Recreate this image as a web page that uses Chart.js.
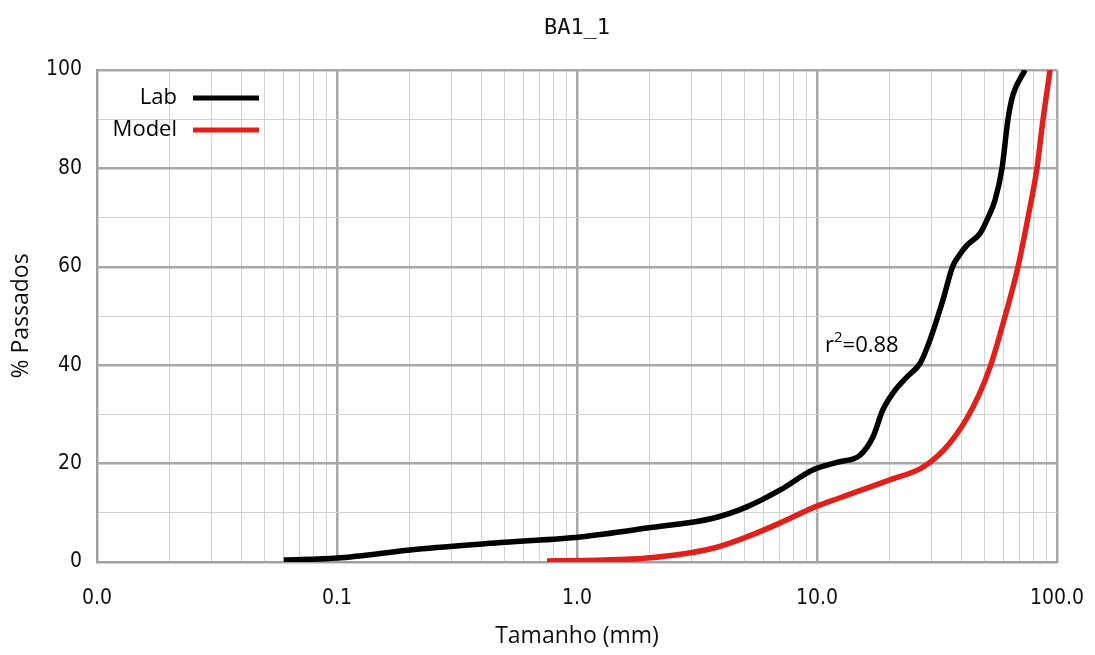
<!DOCTYPE html>
<html>
<head>
<meta charset="utf-8">
<script src="https://cdn.jsdelivr.net/npm/chart.js@4.4.1/dist/chart.umd.min.js"></script>
<style>
    html, body { margin: 0; padding: 0; background: #fff; }
    #wrap { width: 1095px; height: 655px; }
</style>
</head>
<body>
<div id="wrap"><canvas id="gradChart"></canvas></div>
<script>
// values
const labSize = [0.06, 0.1, 0.215, 0.5, 1.03, 1.96, 3.69, 5.1, 7.0, 9.6, 12.2, 15.1, 17.1, 18.8, 20.7, 23.7, 26.9, 29.5, 33.5, 36.7, 38.7, 42.2, 47.8, 51.6, 55.2, 59, 62.5, 65.6, 73.6];
const labPass = [0.4, 0.8, 2.6, 4.0, 5.1, 6.9, 8.9, 11.2, 14.6, 18.7, 20.3, 21.7, 25.4, 30.9, 34.3, 37.6, 40.4, 45, 53.3, 60, 62, 64.4, 66.8, 70, 73.6, 80, 90, 95, 100];
const modelSize = [0.75, 1.0, 1.96, 3.69, 5.1, 7.0, 9.6, 12.4, 20.1, 27.7, 35.8, 44.7, 52.6, 59.6, 68.8, 75.7, 82.5, 87.5, 93.6];
const modelPass = [0.2, 0.3, 0.8, 2.8, 5.1, 7.9, 11, 13, 16.7, 19.3, 24.2, 31.5, 39.6, 48.5, 60, 70, 80, 90, 100];
const xTickValues = [];
[0.01, 0.1, 1, 10].forEach(function (d) {
    for (let m = 1; m < 10; m++) xTickValues.push(+(m * d).toPrecision(3));
});
xTickValues.push(100);
const xTickLabels = ['0.0', '0.1', '1.0', '10.0', '100.0'];
const yTickValues = [0, 10, 20, 30, 40, 50, 60, 70, 80, 90, 100];
const yTickLabels = [0, 20, 40, 60, 80, 100];
const r2Text = '0.88';

const tickFont = '"DejaVu Sans Condensed", "DejaVu Sans", sans-serif';

function isDecade(v) {
    const l = Math.log10(v);
    return Math.abs(l - Math.round(l)) < 1e-9;
}

function pts(xs, ys) {
    return xs.map(function (x, i) { return {x: x, y: ys[i]}; });
}

const extras = {
    id: 'extras',
    afterDraw: function (chart) {
        const ctx = chart.ctx;
        const a = chart.chartArea;
        ctx.save();
        // title
        ctx.fillStyle = '#111';
        ctx.font = '22px "DejaVu Sans Mono"';
        ctx.textAlign = 'center';
        ctx.textBaseline = 'middle';
        ctx.fillText('BA1_1', (a.left + a.right) / 2, 28);
        // legend, text then line
        ctx.font = '22px "Open Sans"';
        ctx.textAlign = 'right';
        chart.data.datasets.forEach(function (ds, i) {
            const y = a.top + 28 + i * 32;
            ctx.fillStyle = '#000';
            ctx.fillText(ds.label, a.left + 80, y);
            ctx.strokeStyle = ds.borderColor;
            ctx.lineWidth = 5;
            ctx.beginPath();
            ctx.moveTo(a.left + 96, y);
            ctx.lineTo(a.left + 162, y);
            ctx.stroke();
        });
        // r2 note
        const xs = chart.scales.x, ys = chart.scales.y;
        const px = xs.getPixelForValue(10.8), py = ys.getPixelForValue(44);
        ctx.textAlign = 'left';
        ctx.fillStyle = '#000';
        ctx.font = '22px "Open Sans"';
        ctx.fillText('r', px, py);
        const w1 = ctx.measureText('r').width;
        ctx.font = '15px "Open Sans"';
        ctx.fillText('2', px + w1, py - 8);
        const w2 = ctx.measureText('2').width;
        ctx.font = '22px "Open Sans"';
        ctx.fillText('=' + r2Text, px + w1 + w2, py);
        ctx.restore();
    }
};

const ctx = document.getElementById('gradChart').getContext('2d');
const myChart = new Chart(ctx, {
    type: 'line',
    data: {
        datasets: [
            {
                label: 'Lab',
                data: pts(labSize, labPass),
                borderColor: '#000000',
                borderWidth: 5.5,
                pointRadius: 0,
                cubicInterpolationMode: 'monotone',
                fill: false
            },
            {
                label: 'Model',
                data: pts(modelSize, modelPass),
                borderColor: '#e0201a',
                borderWidth: 5.5,
                pointRadius: 0,
                cubicInterpolationMode: 'monotone',
                fill: false
            }
        ]
    },
    options: {
        responsive: true,
        maintainAspectRatio: false,
        animation: false,
        layout: { padding: { top: 70, right: 38, left: 0, bottom: 0 } },
        plugins: {
            legend: { display: false },
            tooltip: { enabled: false }
        },
        scales: {
            x: {
                type: 'logarithmic',
                min: 0.01,
                max: 100,
                afterBuildTicks: function (s) {
                    s.ticks = xTickValues.map(function (v) { return {value: v}; });
                },
                afterFit: function (s) {
                    s.height = 93;
                    s.paddingLeft = 0;
                    s.paddingRight = 0;
                },
                ticks: {
                    autoSkip: false,
                    maxRotation: 0,
                    padding: 24,
                    color: '#111',
                    font: { family: tickFont, size: 21 },
                    callback: function (v) {
                        if (!isDecade(v)) return '';
                        return xTickLabels[Math.round(Math.log10(v)) + 2];
                    }
                },
                grid: {
                    drawTicks: false,
                    color: function (c) { return c.tick && isDecade(c.tick.value) ? '#a8a8a8' : '#d2d2d2'; },
                    lineWidth: function (c) { return c.tick && isDecade(c.tick.value) ? 2.5 : 1; }
                },
                border: { display: true, color: '#a0a0a0', width: 2 },
                title: {
                    display: true,
                    text: 'Tamanho (mm)',
                    color: '#111',
                    font: { family: 'Open Sans', size: 23 },
                    padding: { top: 0, bottom: 5 }
                }
            },
            y: {
                min: 0,
                max: 100,
                afterBuildTicks: function (s) {
                    s.ticks = yTickValues.map(function (v) { return {value: v}; });
                },
                afterFit: function (s) { s.width = 97; },
                ticks: {
                    autoSkip: false,
                    padding: 15,
                    color: '#111',
                    font: { family: tickFont, size: 21 },
                    callback: function (v) { return yTickLabels.indexOf(v) >= 0 ? String(v) : ''; }
                },
                grid: {
                    drawTicks: false,
                    color: function (c) { return c.tick && c.tick.value % 20 === 0 ? '#a8a8a8' : '#d2d2d2'; },
                    lineWidth: function (c) { return c.tick && c.tick.value % 20 === 0 ? 2.5 : 1; }
                },
                border: { display: true, color: '#a0a0a0', width: 2 },
                title: {
                    display: true,
                    text: '% Passados',
                    color: '#111',
                    font: { family: 'Open Sans', size: 23 },
                    padding: { top: 8, bottom: 0 }
                }
            }
        }
    },
    plugins: [extras]
});
</script>
</body>
</html>
